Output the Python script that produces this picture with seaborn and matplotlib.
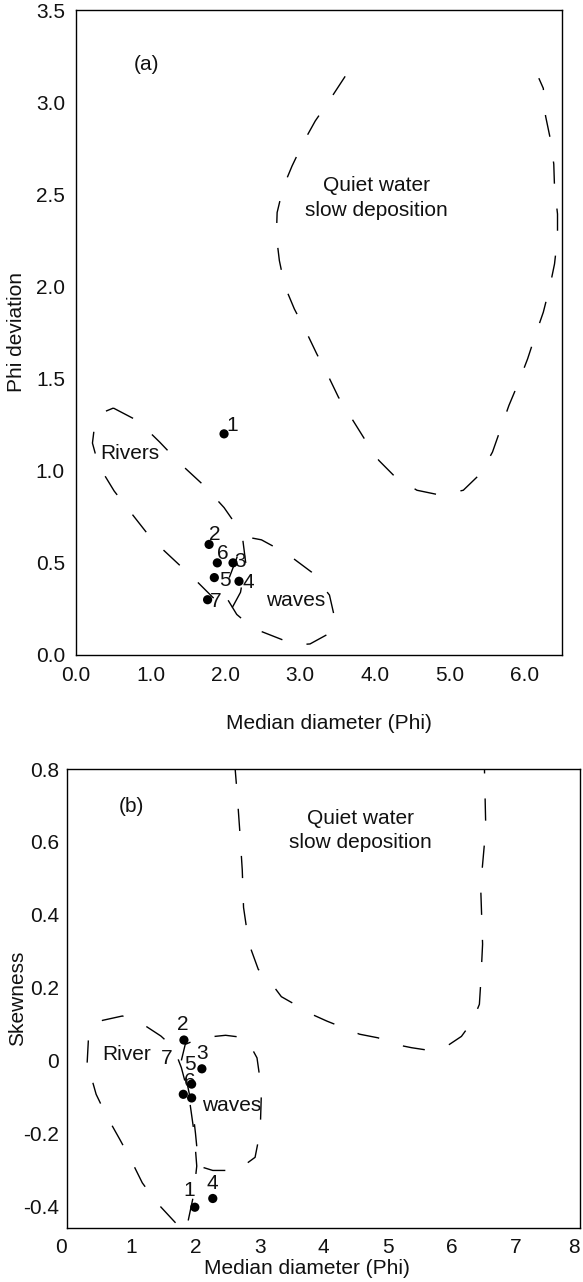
import matplotlib
matplotlib.use("Agg")
import matplotlib.pyplot as plt
import pandas as pd
import seaborn as sns

# ---- sample points -------------------------------------------------------
sample_ids = ["1", "2", "3", "4", "5", "6", "7"]

# (a) median diameter vs. phi deviation
a_median = [1.98, 1.78, 2.10, 2.18, 1.85, 1.89, 1.76]
a_deviation = [1.20, 0.60, 0.50, 0.40, 0.42, 0.50, 0.30]

# (b) median diameter vs. skewness
b_median = [1.99, 1.82, 2.10, 2.27, 1.94, 1.94, 1.81]
b_skewness = [-0.403, 0.056, -0.023, -0.379, -0.065, -0.103, -0.093]

# ---- environment envelopes (a) -------------------------------------------
rivers_a_x = [0.50, 0.83, 1.12, 1.39, 1.71, 1.98, 2.22, 2.27, 2.20, 2.08, 2.01,
              1.80, 1.59, 1.30, 1.01, 0.72, 0.51, 0.30, 0.22, 0.25, 0.38, 0.50]
rivers_a_y = [1.34, 1.27, 1.155, 1.04, 0.92, 0.80, 0.66, 0.50, 0.34, 0.25, 0.24,
              0.325, 0.41, 0.52, 0.63, 0.78, 0.89, 1.03, 1.15, 1.25, 1.32, 1.34]

waves_a_x = [2.05, 2.20, 2.35, 2.48, 2.82, 3.15, 3.39, 3.46, 3.40, 3.13, 2.95,
             2.84, 2.37, 2.15, 2.00, 2.05]
waves_a_y = [0.42, 0.58, 0.635, 0.625, 0.55, 0.45, 0.325, 0.20, 0.12, 0.06, 0.055,
             0.07, 0.145, 0.22, 0.32, 0.42]

quiet_a_x = [3.60, 3.40, 3.20, 3.04, 2.89, 2.77, 2.69, 2.68, 2.72, 2.79, 2.92,
             3.07, 3.22, 3.37, 3.51, 3.69, 3.87, 4.05, 4.27, 4.56, 4.88, 5.18,
             5.41, 5.57, 5.68, 5.79, 5.92, 6.04, 6.15, 6.25, 6.34, 6.40, 6.44,
             6.44, 6.40, 6.39, 6.34, 6.28, 6.25, 6.19]
quiet_a_y = [3.14, 3.016, 2.898, 2.781, 2.654, 2.537, 2.401, 2.275, 2.140, 2.004,
             1.878, 1.761, 1.634, 1.517, 1.399, 1.282, 1.165, 1.056, 0.966, 0.894,
             0.867, 0.894, 0.984, 1.101, 1.228, 1.354, 1.48, 1.607, 1.743, 1.86,
             2.004, 2.122, 2.266, 2.393, 2.537, 2.664, 2.808, 2.925, 3.075, 3.13]

# ---- environment envelopes (b) -------------------------------------------
river_b_x = [0.31, 0.33, 0.45, 0.55, 0.86, 1.20, 1.46, 1.66, 1.78, 1.90, 1.98,
             2.02, 1.97, 1.85, 1.69, 1.40, 1.17, 0.99, 0.82, 0.60, 0.45, 0.31]
river_b_y = [-0.006, 0.06, 0.10, 0.11, 0.122, 0.097, 0.067, 0.035, -0.02, -0.10,
             -0.20, -0.29, -0.37, -0.47, -0.446, -0.391, -0.336, -0.272, -0.217,
             -0.148, -0.093, -0.006]

waves_b_x = [1.78, 1.84, 2.08, 2.47, 2.79, 2.96, 3.03, 3.01, 2.93, 2.65, 2.27,
             2.05, 2.00, 1.96, 1.84, 1.78]
waves_b_y = [0.0, 0.044, 0.062, 0.069, 0.062, 0.007, -0.08, -0.194, -0.266,
             -0.302, -0.302, -0.29, -0.20, -0.139, -0.038, 0.0]

quiet_b_x = [2.61, 2.65, 2.69, 2.73, 2.75, 2.80, 2.86, 2.98, 3.14, 3.34, 3.55,
             3.81, 4.05, 4.32, 4.56, 4.85, 5.09, 5.37, 5.63, 5.92, 6.15, 6.32,
             6.43, 6.45, 6.48, 6.45, 6.48, 6.53, 6.51, 6.51]
quiet_b_y = [0.82, 0.733, 0.633, 0.523, 0.42, 0.36, 0.308, 0.25, 0.222, 0.175,
             0.154, 0.127, 0.108, 0.089, 0.072, 0.062, 0.045, 0.035, 0.028, 0.039,
             0.066, 0.107, 0.154, 0.21, 0.319, 0.478, 0.538, 0.637, 0.793, 0.82]

# ---- tick labels ------------------------------------------------------------
a_xticks = [0, 1, 2, 3, 4, 5, 6]
a_xticklabels = ["0.0", "1.0", "2.0", "3.0", "4.0", "5.0", "6.0"]
a_yticks = [0.0, 0.5, 1.0, 1.5, 2.0, 2.5, 3.0, 3.5]
a_yticklabels = ["0.0", "0.5", "1.0", "1.5", "2.0", "2.5", "3.0", "3.5"]
b_xticks = [0, 1, 2, 3, 4, 5, 6, 7, 8]
b_xticklabels = ["0", "1", "2", "3", "4", "5", "6", "7", "8"]
b_yticks = [-0.4, -0.2, 0.0, 0.2, 0.4, 0.6, 0.8]
b_yticklabels = ["-0.4", "-0.2", "0", "0.2", "0.4", "0.6", "0.8"]

# label offsets (points) for the sample numbers
a_offsets = [(6, 6), (4, 7), (5, 1), (7, -1), (8, -2), (4, 7), (6, -1)]
b_offsets = [(-4, 12), (-1, 11), (0, 11), (0, 11), (-1, 14), (-1, 12), (-12, 26)]

# ---- style -------------------------------------------------------------------
sns.set_theme(style="white")
plt.rcParams["font.family"] = ["Liberation Sans", "DejaVu Sans"]
FS = 15
INK = "#111111"
DASH = (16, 18)

fig = plt.figure(figsize=(5.83, 12.82), dpi=100)
W, H = 583.0, 1282.0
ax_a = fig.add_axes([76 / W, 1 - 655 / H, (562 - 76) / W, (655 - 10) / H])
ax_b = fig.add_axes([67.3 / W, 1 - 1228 / H, (580 - 67.3) / W, (1228 - 769) / H])


def envelope(ax, xs, ys):
    df = pd.DataFrame({"x": xs, "y": ys})
    sns.lineplot(data=df, x="x", y="y", sort=False, estimator=None, ax=ax,
                 color="black", linewidth=1.0)
    line = ax.lines[-1]
    line.set_dashes(DASH)
    line.set_dash_capstyle("butt")


def samples(ax, xs, ys, offsets):
    df = pd.DataFrame({"x": xs, "y": ys, "id": sample_ids})
    sns.scatterplot(data=df, x="x", y="y", ax=ax, color="black", s=44,
                    edgecolor="none", zorder=5)
    for (_, r), off in zip(df.iterrows(), offsets):
        ax.annotate(r["id"], (r["x"], r["y"]), xytext=off,
                    textcoords="offset points", ha="center", va="center",
                    fontsize=FS, color=INK)


def style_axes(ax, xlim, ylim, xt, xtl, yt, ytl, xlabel, ylabel, xpad, ypad):
    ax.set_xlim(*xlim)
    ax.set_ylim(*ylim)
    ax.set_xticks(xt)
    ax.set_xticklabels(xtl)
    ax.set_yticks(yt)
    ax.set_yticklabels(ytl)
    ax.tick_params(axis="both", direction="in", length=4.5, width=1.0,
                   color="black", labelsize=FS, labelcolor=INK)
    ax.tick_params(axis="x", pad=xpad)
    ax.tick_params(axis="y", pad=ypad)
    for sp in ax.spines.values():
        sp.set_visible(True)
        sp.set_color("black")
        sp.set_linewidth(1.0)
    ax.set_xlabel(xlabel, fontsize=FS, color=INK)
    ax.set_ylabel(ylabel, fontsize=FS, color=INK)
    ax.grid(False)


# ---- panel (a) ---------------------------------------------------------------
envelope(ax_a, quiet_a_x, quiet_a_y)
envelope(ax_a, rivers_a_x, rivers_a_y)
envelope(ax_a, waves_a_x, waves_a_y)
samples(ax_a, a_median, a_deviation, a_offsets)
style_axes(ax_a, (0, 6.5), (0, 3.5), a_xticks, a_xticklabels, a_yticks,
           a_yticklabels, "Median diameter (Phi)", "Phi deviation", 8, 8)
ax_a.xaxis.set_label_coords(0.52, -0.092)
ax_a.yaxis.set_label_coords(-0.103, 0.5)
ax_a.text(0.94, 3.205, "(a)", ha="center", va="center", fontsize=FS, color=INK)
ax_a.text(4.02, 2.48, "Quiet water\nslow deposition", ha="center", va="center",
          fontsize=FS, color=INK, linespacing=1.35)
ax_a.text(0.33, 1.096, "Rivers", ha="left", va="center", fontsize=FS, color=INK)
ax_a.text(2.54, 0.294, "waves", ha="left", va="center", fontsize=FS, color=INK)

# ---- panel (b) ---------------------------------------------------------------
envelope(ax_b, quiet_b_x, quiet_b_y)
envelope(ax_b, river_b_x, river_b_y)
envelope(ax_b, waves_b_x, waves_b_y)
samples(ax_b, b_median, b_skewness, b_offsets)
style_axes(ax_b, (0, 8), (-0.46, 0.8), b_xticks, b_xticklabels, b_yticks,
           b_yticklabels, "Median diameter (Phi)", "Skewness", 7, 6)
ax_b.xaxis.set_label_coords(0.468, -0.068)
ax_b.yaxis.set_label_coords(-0.079, 0.5)
b_labels = ax_b.get_xticklabels()
b_labels[0].set_horizontalalignment("right")
b_labels[-1].set_horizontalalignment("right")
ax_b.text(1.0, 0.696, "(b)", ha="center", va="center", fontsize=FS, color=INK)
ax_b.text(4.58, 0.632, "Quiet water\nslow deposition", ha="center", va="center",
          fontsize=FS, color=INK, linespacing=1.35)
ax_b.text(0.54, 0.017, "River", ha="left", va="center", fontsize=FS, color=INK)
ax_b.text(2.11, -0.125, "waves", ha="left", va="center", fontsize=FS, color=INK)

fig.savefig("out.png", dpi=100, facecolor="white")
